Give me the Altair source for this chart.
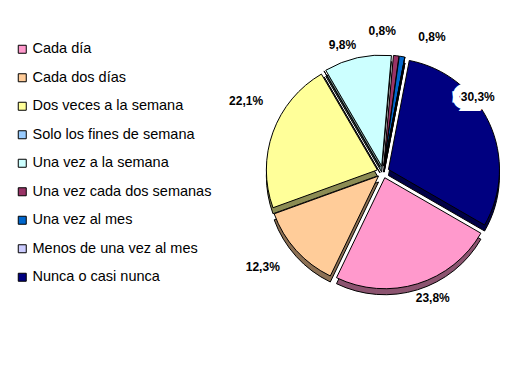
import altair as alt
import pandas as pd
import math

categories = ["Cada día", "Cada dos días", "Dos veces a la semana", "Solo los fines de semana",
              "Una vez a la semana", "Una vez cada dos semanas", "Una vez al mes",
              "Menos de una vez al mes", "Nunca o casi nunca"]
values = [23.8, 12.3, 22.1, 0.0, 9.8, 0.8, 0.8, 0.0, 30.3]
labels = ["23,8%", "12,3%", "22,1%", "", "9,8%", "0,8%", "0,8%", "", "30,3%"]
colors = ["#FF99CC", "#FFCC99", "#FFFF99", "#99CCFF", "#CCFFFF", "#993366", "#0066CC", "#CCCCFF", "#000080"]
dark = ["#8C5470", "#8C7054", "#8C8C54", "#54708C", "#708C8C", "#541C38", "#003870", "#70708C", "#000046"]

total = sum(values)
start, end, mid = [], [], []
acc = 0.0
for v in values:
    start.append(acc)
    end.append(acc + v)
    mid.append(acc + v / 2)
    acc += v

df = pd.DataFrame({"cat": categories, "value": values, "label": labels,
                   "start": start, "end": end, "mid": mid, "dark": dark})

a0 = 120 * math.pi / 180
theta_scale = alt.Scale(domain=[0, total], range=[a0, a0 + 2 * math.pi])
CX, CY, R = 375, 164, 111
E = 6      # explosion distance
DEPTH = 6

base = alt.Chart(df).transform_calculate(
    t=f"{a0} + datum.mid / {total} * 2 * PI"
).transform_calculate(
    ex=f"{CX} + {E} * sin(datum.t)",
    ey=f"{CY} - {E} * cos(datum.t)",
    eyd=f"{CY + DEPTH} - {E} * cos(datum.t)",
)

depth = base.mark_arc(outerRadius=R, stroke="black", strokeWidth=1).encode(
    theta=alt.Theta("start:Q", scale=theta_scale),
    theta2="end:Q",
    color=alt.Color("dark:N", scale=None),
    x=alt.X("ex:Q", scale=None), y=alt.Y("eyd:Q", scale=None),
)

face = base.mark_arc(outerRadius=R, stroke="black", strokeWidth=1).encode(
    theta=alt.Theta("start:Q", scale=theta_scale),
    theta2="end:Q",
    color=alt.Color("cat:N", scale=alt.Scale(domain=categories, range=colors),
                    legend=alt.Legend(title=None, orient="none", legendX=7, legendY=34,
                                      symbolType="square", symbolSize=64,
                                      symbolStrokeColor="black", symbolStrokeWidth=1,
                                      labelFont="Liberation Sans", labelFontSize=14.5,
                                      labelColor="black", rowPadding=13.5, labelOffset=3,
                                      labelLimit=300)),
    order=alt.Order("start:Q"),
    x=alt.X("ex:Q", scale=None), y=alt.Y("ey:Q", scale=None),
)

# label offsets (style tweaks) relative to radial placement
offsets = {
    "Cada día": (10, -3),
    "Cada dos días": (-20, 5),
    "Dos veces a la semana": (-10, -25),
    "Una vez a la semana": (-11, 5),
    "Una vez cada dos semanas": (-16, -7),
    "Una vez al mes": (27, -2),
    "Nunca o casi nunca": (-28, -19),
}

layers = [depth, face]
for cat, (dx, dy) in offsets.items():
    sel = alt.Chart(df).transform_filter(alt.datum.cat == cat)
    enc = dict(theta=alt.Theta("mid:Q", scale=theta_scale), radius=alt.value(135),
               text="label:N", x=alt.value(CX), y=alt.value(CY))
    if cat == "Nunca o casi nunca":
        layers.append(sel.mark_text(dx=dx, dy=dy, font="Liberation Sans", fontSize=12,
                                    fontWeight="bold", color="white", stroke="white",
                                    strokeWidth=16, strokeJoin="miter",
                                    align="center", baseline="middle").encode(**enc))
    layers.append(sel.mark_text(dx=dx, dy=dy, font="Liberation Sans", fontSize=12,
                                fontWeight="bold", color="black",
                                align="center", baseline="middle").encode(**enc))

chart = alt.layer(*layers).properties(
    width=514, height=349, padding=0,
    autosize=alt.AutoSizeParams(type="none"),
    background="white",
).configure_view(stroke=None)

chart.save("out.html", embed_options={"renderer": "svg", "actions": False})
